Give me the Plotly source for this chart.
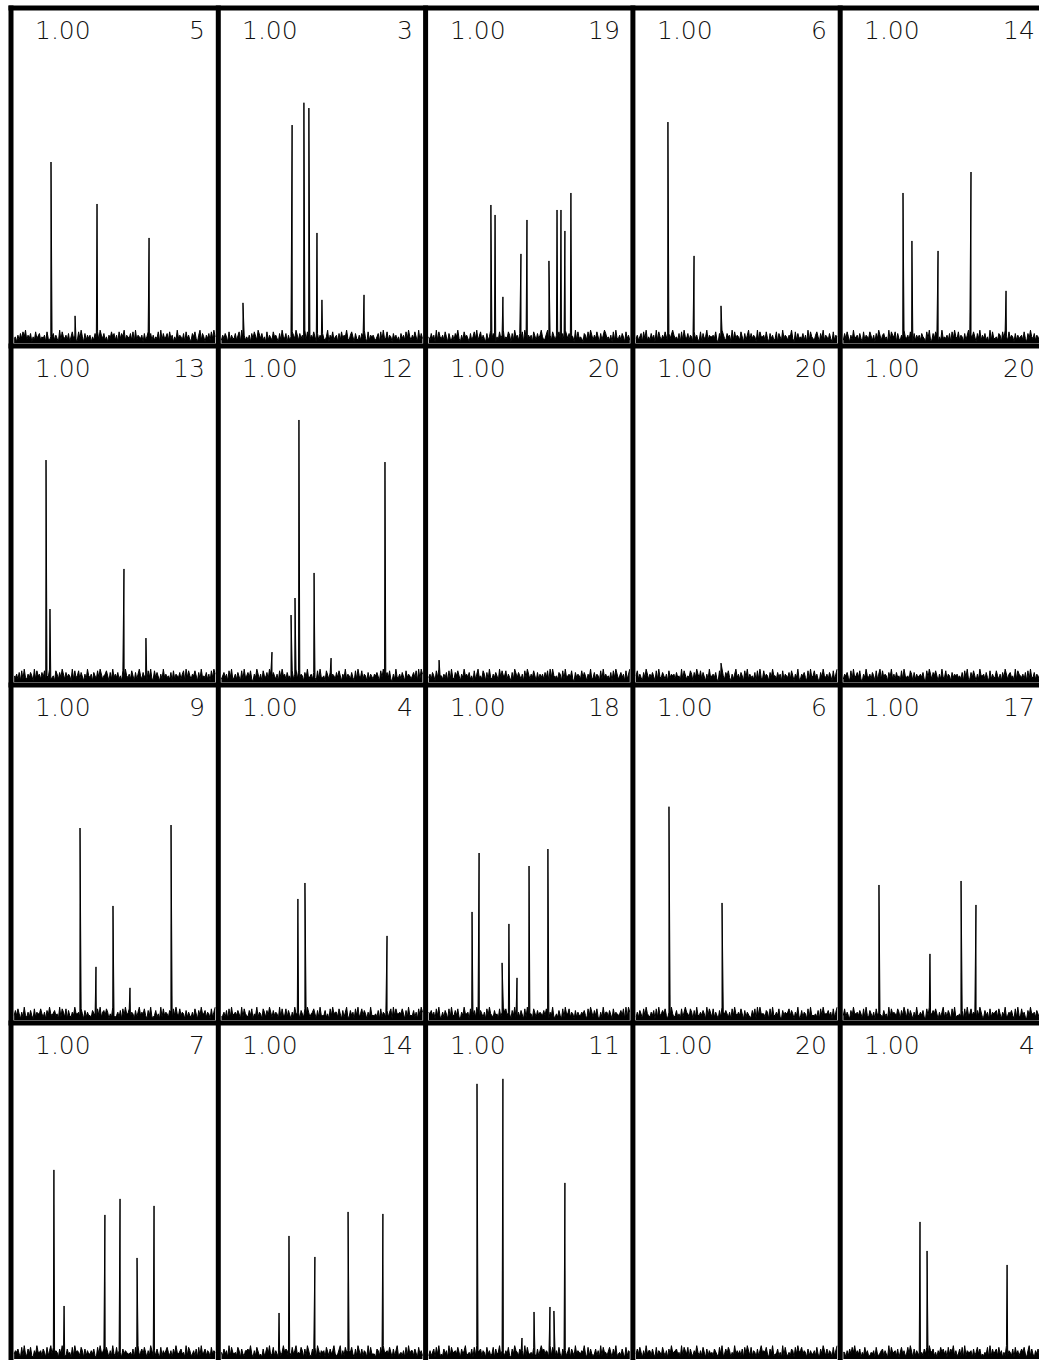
import plotly.graph_objects as go

# ---------------- data ----------------
LEFT_LABEL = "1.00"
PANEL_NUMBERS = [5, 3, 19, 6, 14,
                 13, 12, 20, 20, 20,
                 9, 4, 18, 6, 17,
                 7, 14, 11, 20, 4]

# peak positions (fraction of panel width) and heights (fraction of panel height)
PEAK_POS = [
    [0.193, 0.309, 0.415, 0.666],
    [0.119, 0.356, 0.413, 0.437, 0.476, 0.500, 0.703],
    [0.315, 0.335, 0.373, 0.460, 0.489, 0.595, 0.634, 0.653, 0.672, 0.701],
    [0.169, 0.295, 0.425],
    [0.303, 0.346, 0.472, 0.631, 0.800],
    [0.169, 0.188, 0.545, 0.651],
    [0.259, 0.351, 0.370, 0.389, 0.462, 0.544, 0.804],
    [0.065],
    [0.425],
    [],
    [0.333, 0.410, 0.492, 0.574, 0.772],
    [0.384, 0.418, 0.814],
    [0.224, 0.258, 0.369, 0.402, 0.441, 0.499, 0.590],
    [0.174, 0.430],
    [0.187, 0.433, 0.583, 0.655],
    [0.207, 0.256, 0.453, 0.526, 0.608, 0.690],
    [0.293, 0.341, 0.466, 0.626, 0.794],
    [0.248, 0.373, 0.465, 0.523, 0.600, 0.619, 0.672],
    [],
    [0.385, 0.419, 0.805],
]
PEAK_HEIGHT = [
    [0.545, 0.083, 0.419, 0.317],
    [0.122, 0.656, 0.723, 0.707, 0.332, 0.131, 0.146],
    [0.416, 0.386, 0.140, 0.269, 0.371, 0.248, 0.401, 0.401, 0.338, 0.452],
    [0.665, 0.263, 0.113],
    [0.452, 0.308, 0.278, 0.515, 0.158],
    [0.666, 0.220, 0.340, 0.133],
    [0.091, 0.202, 0.253, 0.786, 0.328, 0.073, 0.660],
    [0.067],
    [0.058],
    [],
    [0.578, 0.161, 0.344, 0.098, 0.587],
    [0.365, 0.413, 0.254],
    [0.326, 0.503, 0.173, 0.290, 0.128, 0.464, 0.515],
    [0.642, 0.353],
    [0.407, 0.200, 0.419, 0.347],
    [0.567, 0.159, 0.432, 0.480, 0.303, 0.459],
    [0.138, 0.369, 0.306, 0.441, 0.435],
    [0.825, 0.840, 0.063, 0.141, 0.156, 0.144, 0.528],
    [],
    [0.411, 0.324, 0.282],
]

# baseline noise levels, one digit per channel (estimated)
NOISE = [
    "3415263748 2536142735 6243517324 4625318274 3526147352 2738416253 5142637285 3624153746 2517364825 4362718254 3516247362 5243718263 4627351428 3542617352 2647315826 4153627384",
    "2536417253 3624718352 4251637428 5362417253 2745316284 3615247538 4263518274 2537416253 6324815372 4516273548 3257416325 2648317254 5324617283 3725416352 4163527384 2537418263",
    "4263518274 3527416325 2648315274 5316247382 4725316248 3651427358 2437516284 5263718425 3517426358 4236815274 2547316285 3625418273 4316527384 2537416258 6342517283 3526417352",
    "3524617382 4263518274 2537416358 5342617284 3625417352 2716348254 4537216385 3264518273 5427316258 2635418274 4527316352 3716428354 2548317263 4362518274 3257416382 5426317254",
    "2637415283 4526317254 3742516384 2563418275 4716325384 3527416253 5264317382 2637514283 4352617384 3725416258 2547316382 5362418273 3426517384 2735416253 4527316384 3625417258",
    "4352617283 2536418274 5263714382 3417526384 2635418273 4726315284 3516427385 2457316283 5362417384 3527416258 4263517382 2736415283 5342617254 3625718374 2547316283 4362517385",
    "2463517382 3526417283 4637215384 2517436285 3642517384 5263417258 2735416382 4526317283 3417526354 2637415382 5426317284 3725416253 2546317384 4637215283 3526417354 2463718285",
    "3526417384 4253617283 2647315384 5362417258 3427516283 2536418374 4725316285 3642517384 2537416253 5263718384 3426517283 4537216354 2736415382 3625417283 5342617384 2463517258",
    "4725316384 2536417283 3642517354 5263418274 2437516385 3726415283 4536217384 2647315258 3526417382 5342617283 2735416384 4263517254 3627415382 2546317283 4735216384 3526417258",
    "2546317283 4637215384 3526417258 2735416382 5263417284 3427516253 4536217384 2647315283 3725416354 5342617382 2637415284 4526317253 3742516384 2563418275 4352617283 3625417354",
    "3637415283 2526317254 4742516384 3563418275 2716325384 4527416253 3264317382 5637514283 2352617384 4725416258 3547316382 2362418273 5426517384 3735416253 2527316384 4625417258",
    "2352617283 4536418274 3263714382 5417526384 2635418273 3726315284 4516427385 2457316283 3362417384 5527416258 2263517382 4736415283 3342617254 2625718374 4547316283 3362517385",
    "5463517382 2526417283 3637215384 4517436285 2642517384 3263417258 5735416382 2526317283 4417526354 3637415382 2426317284 4725416253 3546317384 2637215283 5526417354 3463718285",
    "2526417384 3253617283 4647315384 2362417258 5427516283 3536418374 2725316285 4642517384 3537416253 2263718384 4426517283 3537216354 5736415382 2625417283 3342617384 4463517258",
    "3725316384 4536417283 2642517354 3263418274 5437516385 2726415283 3536217384 4647315258 2526417382 3342617283 4735416384 2263517254 5627415382 3546317283 2735216384 4526417258",
    "3546317283 2637215384 4526417258 3735416382 2263417284 5427516253 3536217384 4647315283 2725416354 3342617382 4637415284 2526317253 5742516384 3563418275 2352617283 4625417354",
    "4263518274 3427516325 5648315274 2316247382 3725316248 4651427358 3437516284 2263718425 4517426358 3236815274 5547316285 2625418273 3316527384 4537416258 2342517283 5526417352",
    "2524617382 3263518274 4537416358 2342617284 5625417352 3716348254 2537216385 4264518273 3427316258 5635418274 2527316352 4716428354 3548317263 2362518274 4257416382 3426317254",
    "3637415283 5526317254 2742516384 4563418275 3716325384 2527416253 4264317382 3637514283 5352617384 2725416258 4547316382 3362418273 2426517384 5735416253 3527316384 2625417258",
    "4415263748 3536142735 2243517324 5625318274 4526147352 3738416253 2142637285 4624153746 3517364825 2362718254 4516247362 3243718263 5627351428 2542617352 4647315826 3153627384",
]
NOISE_UNIT = 0.0050  # height of one noise digit, fraction of panel height

# ---------------- layout geometry ----------------
W, H = 1039, 1360
COL_EDGES = [11, 218.3, 425.6, 632.9, 840.2, 1047.5]
ROW_EDGES = [8, 346, 685, 1023, 1361.5]
BW = 5.0
HALF = BW / 2
FONT = dict(family="DejaVu Sans", size=25, color="#111", weight=200)

fig = go.Figure()
annotations = []
layout_axes = {}

for r in range(4):
    for c in range(5):
        k = r * 5 + c
        idx = k + 1
        L, R = COL_EDGES[c], COL_EDGES[c + 1]
        T, B = ROW_EDGES[r], ROW_EDGES[r + 1]
        pw = R - L
        dl = L + HALF
        dr = min(R - HALF, W)
        dt = T + HALF
        db = min(B - HALF, H)
        xr0 = (dl - L) / pw
        xr1 = (dr - L) / pw
        full_inner_h = (B - HALF) - (T + HALF)
        yr0 = ((B - HALF) - db) / full_inner_h
        yr1 = 1.0

        digits = [int(ch) for ch in NOISE[k].replace(" ", "")]
        n = len(digits)
        gx0 = HALF / pw
        gx1 = 1 - HALF / pw
        pts = [(gx0 + (i + 0.5) * (gx1 - gx0) / n, d * NOISE_UNIT) for i, d in enumerate(digits)]
        pts += list(zip(PEAK_POS[k], PEAK_HEIGHT[k]))
        pts.sort()
        xs = [p[0] for p in pts]
        ys = [p[1] for p in pts]

        xa = "x" if idx == 1 else f"x{idx}"
        ya = "y" if idx == 1 else f"y{idx}"
        fig.add_trace(go.Scatter(
            x=xs, y=ys, xaxis=xa, yaxis=ya, mode="lines",
            line=dict(color="black", width=1),
            fill="tozeroy", fillcolor="black",
            hoverinfo="skip", showlegend=False,
        ))
        xname = "xaxis" if idx == 1 else f"xaxis{idx}"
        yname = "yaxis" if idx == 1 else f"yaxis{idx}"
        layout_axes[xname] = dict(domain=[dl / W, dr / W], range=[xr0, xr1],
                                  visible=False, fixedrange=True, anchor=ya)
        layout_axes[yname] = dict(domain=[1 - db / H, 1 - dt / H], range=[yr0, yr1],
                                  visible=False, fixedrange=True, anchor=xa)

        ty = 1 - (T + 22.5) / H
        annotations.append(dict(text=LEFT_LABEL, x=(L + 22) / W, y=ty,
                                xref="paper", yref="paper", xanchor="left", yanchor="middle",
                                showarrow=False, font=FONT))
        annotations.append(dict(text=str(PANEL_NUMBERS[k]), x=(R - 11) / W, y=ty,
                                xref="paper", yref="paper", xanchor="right", yanchor="middle",
                                showarrow=False, font=FONT))

shapes = []
for xe in COL_EDGES:
    if xe < W:
        shapes.append(dict(type="line", xref="paper", yref="paper",
                           x0=xe / W, x1=xe / W, y0=1 - (ROW_EDGES[0] - HALF) / H, y1=0,
                           line=dict(color="black", width=BW), layer="above"))
for ye in ROW_EDGES:
    if ye < H:
        shapes.append(dict(type="line", xref="paper", yref="paper",
                           x0=(COL_EDGES[0] - HALF) / W, x1=1, y0=1 - ye / H, y1=1 - ye / H,
                           line=dict(color="black", width=BW), layer="above"))

fig.update_layout(
    width=W, height=H,
    margin=dict(l=0, r=0, t=0, b=0),
    paper_bgcolor="white", plot_bgcolor="white",
    annotations=annotations, shapes=shapes,
    showlegend=False,
    **layout_axes,
)

fig.write_html("out.html", config={"displayModeBar": False},
               post_script="document.body.style.margin='0';document.body.style.overflow='hidden';")
